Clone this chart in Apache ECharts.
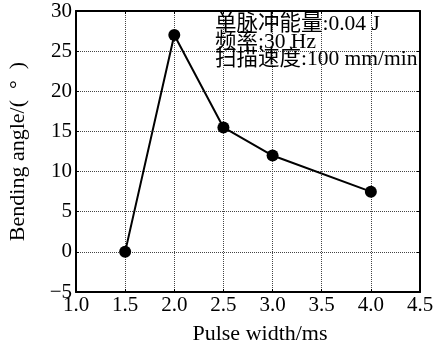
<!DOCTYPE html>
<html lang="en">
<head>
    <meta charset="UTF-8">
    <title>Bending angle vs pulse width</title>
    <script src="https://cdn.jsdelivr.net/npm/echarts@6/dist/echarts.min.js"></script>
    <style>
        html, body { margin: 0; padding: 0; background: #fff; }
        #main { width: 436px; height: 345px; }
    </style>
</head>
<body>
<div id="main"></div>
<script>
    // data
    var pulseWidth = [1.5, 2.0, 2.5, 3.0, 4.0];
    var bendAngle = [0, 27, 15.5, 12, 7.5];
    var notes = ['单脉冲能量:0.04 J', '频率:30 Hz', '扫描速度:100 mm/min'];

    var serif = '"Liberation Serif", "Times New Roman", serif';
    var cjk = '"Liberation Serif", "Noto Sans CJK SC", serif';

    var points = pulseWidth.map(function (x, i) { return [x, bendAngle[i]]; });

    var dotted = { show: true, lineStyle: { color: '#444', type: [1, 1], width: 1 } };
    var frame = { show: true, onZero: false, lineStyle: { color: '#000', width: 2 } };
    var inTick = { show: true, inside: true, length: 3, lineStyle: { color: '#000', width: 1 } };

    var myChart = echarts.init(document.getElementById('main'));
    var option = {
        animation: false,
        grid: { left: 76, right: 16, top: 11, bottom: 53, outerBoundsMode: 'none', containLabel: false },
        xAxis: [
            {
                type: 'value', min: 1, max: 4.5, interval: 0.5,
                name: 'Pulse width/ms', nameLocation: 'middle', nameGap: 31,
                nameTextStyle: { fontFamily: serif, fontSize: 22, color: '#000', padding: [0, 0, 0, 24] },
                axisLine: frame, axisTick: inTick, splitLine: dotted,
                axisLabel: {
                    margin: 3, fontFamily: serif, fontSize: 21, color: '#000',
                    formatter: function (v) { return v.toFixed(1); }
                }
            },
            {
                type: 'value', position: 'top', min: 1, max: 4.5, interval: 0.5,
                axisLine: frame, axisTick: inTick, axisLabel: { show: false }, splitLine: { show: false }
            }
        ],
        yAxis: [
            {
                type: 'value', min: -5, max: 30, interval: 5,
                name: 'Bending angle/(  °  )', nameLocation: 'middle', nameGap: 47,
                nameTextStyle: { fontFamily: serif, fontSize: 22, color: '#000' },
                axisLine: frame, axisTick: inTick, splitLine: dotted,
                axisLabel: {
                    margin: 4, fontFamily: serif, fontSize: 21, color: '#000',
                    formatter: function (v) { return v < 0 ? '\u2212' + Math.abs(v) : String(v); }
                }
            },
            {
                type: 'value', position: 'right', min: -5, max: 30, interval: 5,
                axisLine: frame, axisTick: inTick, axisLabel: { show: false }, splitLine: { show: false }
            }
        ],
        series: [
            {
                type: 'line',
                data: points,
                symbol: 'circle',
                symbolSize: 12,
                itemStyle: { color: '#000' },
                lineStyle: { color: '#000', width: 2 },
                z: 5
            }
        ],
        graphic: notes.map(function (t, i) {
            return {
                type: 'text', left: 215, top: 14 + i * 17.5, z: 10,
                style: { text: t, fontFamily: cjk, fontSize: 21.5, fill: '#000' }
            };
        })
    };
    myChart.setOption(option);
</script>
</body>
</html>
